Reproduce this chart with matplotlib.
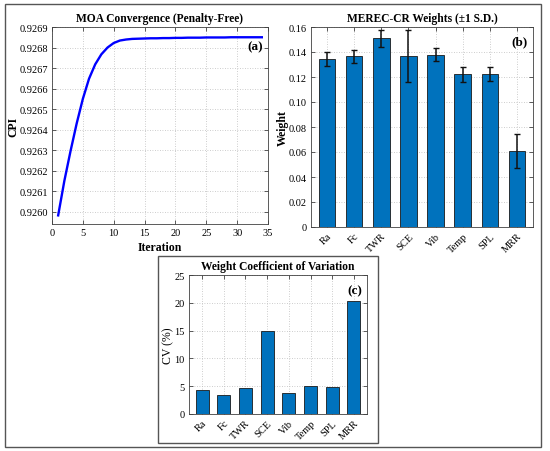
import numpy as np
import matplotlib.pyplot as plt
from matplotlib.patches import Rectangle

plt.rcParams['font.family'] = ['Liberation Serif', 'DejaVu Serif']

# convergence history
iters = list(range(1, 35))
cpi = [0.925982, 0.926150, 0.926295, 0.926430, 0.926550, 0.926648, 0.926718,
       0.926767, 0.926800, 0.926822, 0.926834, 0.926839, 0.926842, 0.926843,
       0.926844, 0.926845, 0.926845, 0.926846, 0.926846, 0.926847, 0.926847,
       0.926848, 0.926848, 0.926848, 0.926849, 0.926849, 0.926849, 0.926849,
       0.926850, 0.926850, 0.926850, 0.926850, 0.926850, 0.926850]

criteria = ["Ra", "Fc", "TWR", "SCE", "Vib", "Temp", "SPL", "MRR"]
weights = [0.1347, 0.1368, 0.1509, 0.1368, 0.1379, 0.1224, 0.1224, 0.0611]
weight_sd = [0.0055, 0.0052, 0.0068, 0.0210, 0.0052, 0.0060, 0.0058, 0.0136]
cv = [4.3, 3.4, 4.7, 15.0, 3.8, 5.0, 4.9, 20.4]

blue = "#0072BD"
grid_kw = dict(color="#bdbdbd", linestyle=(0, (1, 2)), linewidth=0.6)
TICK = 7.5
LAB = 8.5
TIT = 8.3


def style(ax):
    ax.grid(True, **grid_kw)
    ax.set_axisbelow(True)
    ax.tick_params(direction="in", top=True, right=True, labelsize=TICK,
                   length=3, width=0.6, color="#404040", pad=3)
    for s in ax.spines.values():
        s.set_linewidth(0.6)
        s.set_color("#404040")


fig = plt.figure(figsize=(5.5, 4.52), dpi=100)

# outer frame and frame around panel (c)
fig.patches.append(Rectangle((5 / 550, 1 - 448 / 452), 536 / 550, 443 / 452,
                             transform=fig.transFigure, fill=False,
                             edgecolor="#555555", linewidth=1.0))
fig.patches.append(Rectangle((158 / 550, 1 - 444 / 452), 220 / 550, 187 / 452,
                             transform=fig.transFigure, fill=False,
                             edgecolor="#555555", linewidth=1.0))

# (a) convergence
ax1 = fig.add_axes([52 / 550, 1 - 225 / 452, 216 / 550, 197 / 452])
ax1.plot(iters, cpi, color="#0000ff", linewidth=1.7)
ax1.set_xlim(0, 35)
ax1.set_xticks(np.arange(0, 36, 5))
ax1.set_ylim(0.92594, 0.9269)
ax1.set_yticks(np.arange(0.9260, 0.92691, 0.0001))
ax1.yaxis.set_major_formatter(plt.FormatStrFormatter("%.4f"))
ax1.set_xlabel("Iteration", fontsize=LAB, fontweight="bold", labelpad=3)
ax1.set_ylabel("CPI", fontsize=LAB, fontweight="bold", labelpad=0)
ax1.set_title("MOA Convergence (Penalty-Free)", fontsize=TIT, fontweight="bold", pad=4)
ax1.text(0.975, 0.90, "(a)", transform=ax1.transAxes, ha="right", va="center",
         fontsize=9.5, fontweight="bold")
style(ax1)

# (b) weights
x = np.arange(len(criteria))
ax2 = fig.add_axes([311 / 550, 1 - 228 / 452, 222 / 550, 200 / 452])
ax2.bar(x, weights, width=0.6, color=blue, edgecolor="#1a1a1a", linewidth=0.6,
        yerr=weight_sd, error_kw=dict(ecolor="#111111", elinewidth=1.1,
                                      capsize=2.5, capthick=1.0))
ax2.set_xlim(-0.6, 7.6)
ax2.set_ylim(0, 0.16)
ax2.set_yticks(np.arange(0, 0.161, 0.02))
ax2.yaxis.set_major_formatter(plt.FuncFormatter(lambda v, p: "0" if v == 0 else f"{v:.2f}"))
ax2.set_xticks(x)
ax2.set_xticklabels(criteria, rotation=45, ha="right", rotation_mode="anchor")
ax2.set_ylabel("Weight", fontsize=LAB, fontweight="bold", labelpad=0)
ax2.set_title("MEREC-CR Weights (\u00b11 S.D.)", fontsize=TIT, fontweight="bold", pad=4)
ax2.text(0.975, 0.93, "(b)", transform=ax2.transAxes, ha="right", va="center",
         fontsize=9.5, fontweight="bold")
style(ax2)

# (c) coefficient of variation
ax3 = fig.add_axes([189 / 550, 1 - 415 / 452, 178 / 550, 139 / 452])
ax3.bar(x, cv, width=0.6, color=blue, edgecolor="#1a1a1a", linewidth=0.6)
ax3.set_xlim(-0.6, 7.6)
ax3.set_ylim(0, 25)
ax3.set_yticks(np.arange(0, 26, 5))
ax3.set_xticks(x)
ax3.set_xticklabels(criteria, rotation=45, ha="right", rotation_mode="anchor")
ax3.set_ylabel("CV (%)", fontsize=LAB, labelpad=0)
ax3.set_title("Weight Coefficient of Variation", fontsize=TIT, fontweight="bold", pad=4)
ax3.text(0.975, 0.89, "(c)", transform=ax3.transAxes, ha="right", va="center",
         fontsize=9.5, fontweight="bold")
style(ax3)

fig.savefig("out.png", dpi=100)
